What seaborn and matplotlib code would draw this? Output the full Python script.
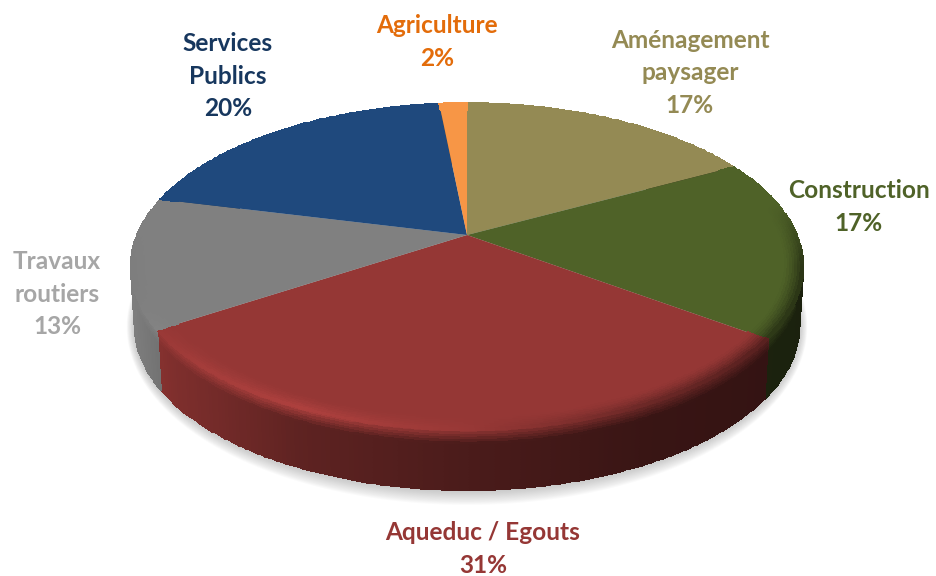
import numpy as np
import seaborn as sns
import matplotlib.pyplot as plt

categories = ['Aménagement\npaysager', 'Construction', 'Aqueduc / Egouts', 'Travaux\nroutiers', 'Services\nPublics', 'Agriculture']
# slice shares as drawn in the picture, and the percentages printed on it
shares = [17.2, 17.8, 30.9, 12.9, 19.6, 1.6]
percent_labels = ['17%', '17%', '31%', '13%', '20%', '2%']
slice_colors = ['#948A54', '#4F6228', '#953735', '#808080', '#1F497D', '#F79646']
text_colors = ['#948A54', '#4F6228', '#953735', '#A6A6A6', '#17375E', '#E36C0A']
# label centres (pixels), one per category
label_x = [690, 859, 483, 57, 228, 437]
label_y = [73, 207, 549, 294, 76, 42]

sns.set_theme(style='white')
plt.rcParams['font.family'] = ['Lato', 'DejaVu Sans']

# pie geometry in pixels
cx, cy = 467, 235
a, h, k = 330, 157.4, 0.193
depth = 60


def project(t, r=1.0, d=0.0):
    # t is degrees clockwise from the top, k gives the perspective
    x = r * np.sin(np.radians(t))
    y = r * np.cos(np.radians(t))
    w = 1 + k * y
    px = cx + a * x / w
    py = cy - h * y / w
    return cx + (px - cx) * (1 - 0.012 * d / depth), py + d


def rim_factor(t):
    px, _ = project(t)
    y = np.cos(np.radians(t))
    front = np.interp(px, [130, 200, 300, 467, 650, 805], [0.98, 1.1, 1.16, 1.02, 0.72, 0.55])
    w = np.clip((0.2 - y) / 0.4, 0, 1)
    return 1 + w * (front - 1)


def side_factor(t):
    px, _ = project(t)
    return np.interp(px, [130, 170, 300, 467, 650, 805], [0.98, 0.85, 0.63, 0.5, 0.38, 0.34])


fig = plt.figure(figsize=(9.37, 5.76), dpi=100)
ax = fig.add_axes([0, 0, 1, 1])
ax.set_xlim(0, 937)
ax.set_ylim(576, 0)
ax.axis('off')

palette = sns.color_palette(slice_colors)
edges = np.cumsum([0] + shares) / sum(shares) * 360

# soft shadow under the disc
ring = np.linspace(0, 360, 361)
sx, sy = project(ring, 1.0, depth)
for grow in np.linspace(1, 0.02, 14):
    ax.fill(cx + (sx - cx) * (1 + 0.024 * grow), 325 + (sy - 325) * (1 + 0.09 * grow),
            color='#808080', alpha=0.035, lw=0)

# side wall first, the top face covers its back half
for i, color in enumerate(palette):
    t = np.linspace(edges[i], edges[i + 1], max(int(shares[i] * 5), 12))
    d = np.linspace(0, depth, 25)
    X = np.array([project(t, 1.0, dd)[0] for dd in d])
    Y = np.array([project(t, 1.0, dd)[1] for dd in d])
    tm = (t[:-1] + t[1:]) / 2
    dm = (d[:-1] + d[1:]) / 2
    blend = np.clip(dm / 14, 0, 1)[:, None]
    F = rim_factor(tm)[None, :] * (1 - blend) + side_factor(tm)[None, :] * blend
    rgb = np.clip(F[:, :, None] * np.array(color), 0, 1)
    ax.pcolormesh(X, Y, rgb, edgecolors='face', linewidth=0.3)

# top faces
for i, color in enumerate(palette):
    t = np.linspace(edges[i], edges[i + 1], 80)
    px, py = project(t)
    ax.fill(np.r_[cx, px], np.r_[cy, py], color=color, lw=0)

# bevel along the outer edge of the top face
for i, color in enumerate(palette):
    t = np.linspace(edges[i], edges[i + 1], max(int(shares[i] * 5), 12))
    r = np.linspace(0.94, 1.0, 9)
    X = np.array([project(t, rr)[0] for rr in r])
    Y = np.array([project(t, rr)[1] for rr in r])
    tm = (t[:-1] + t[1:]) / 2
    u = np.linspace(0, 1, 8)[:, None] ** 1.5
    F = (1 - u) + u * rim_factor(tm)[None, :]
    rgb = np.clip(F[:, :, None] * np.array(color), 0, 1)
    ax.pcolormesh(X, Y, rgb, edgecolors='face', linewidth=0.2)

# labels
for name, pct, lx, ly, tc in zip(categories, percent_labels, label_x, label_y, text_colors):
    ax.text(lx, ly, f'{name}\n{pct}', color=tc, ha='center', va='center',
            fontsize=17.6, fontweight='bold', linespacing=1.5)

fig.savefig('out.png', dpi=100)
